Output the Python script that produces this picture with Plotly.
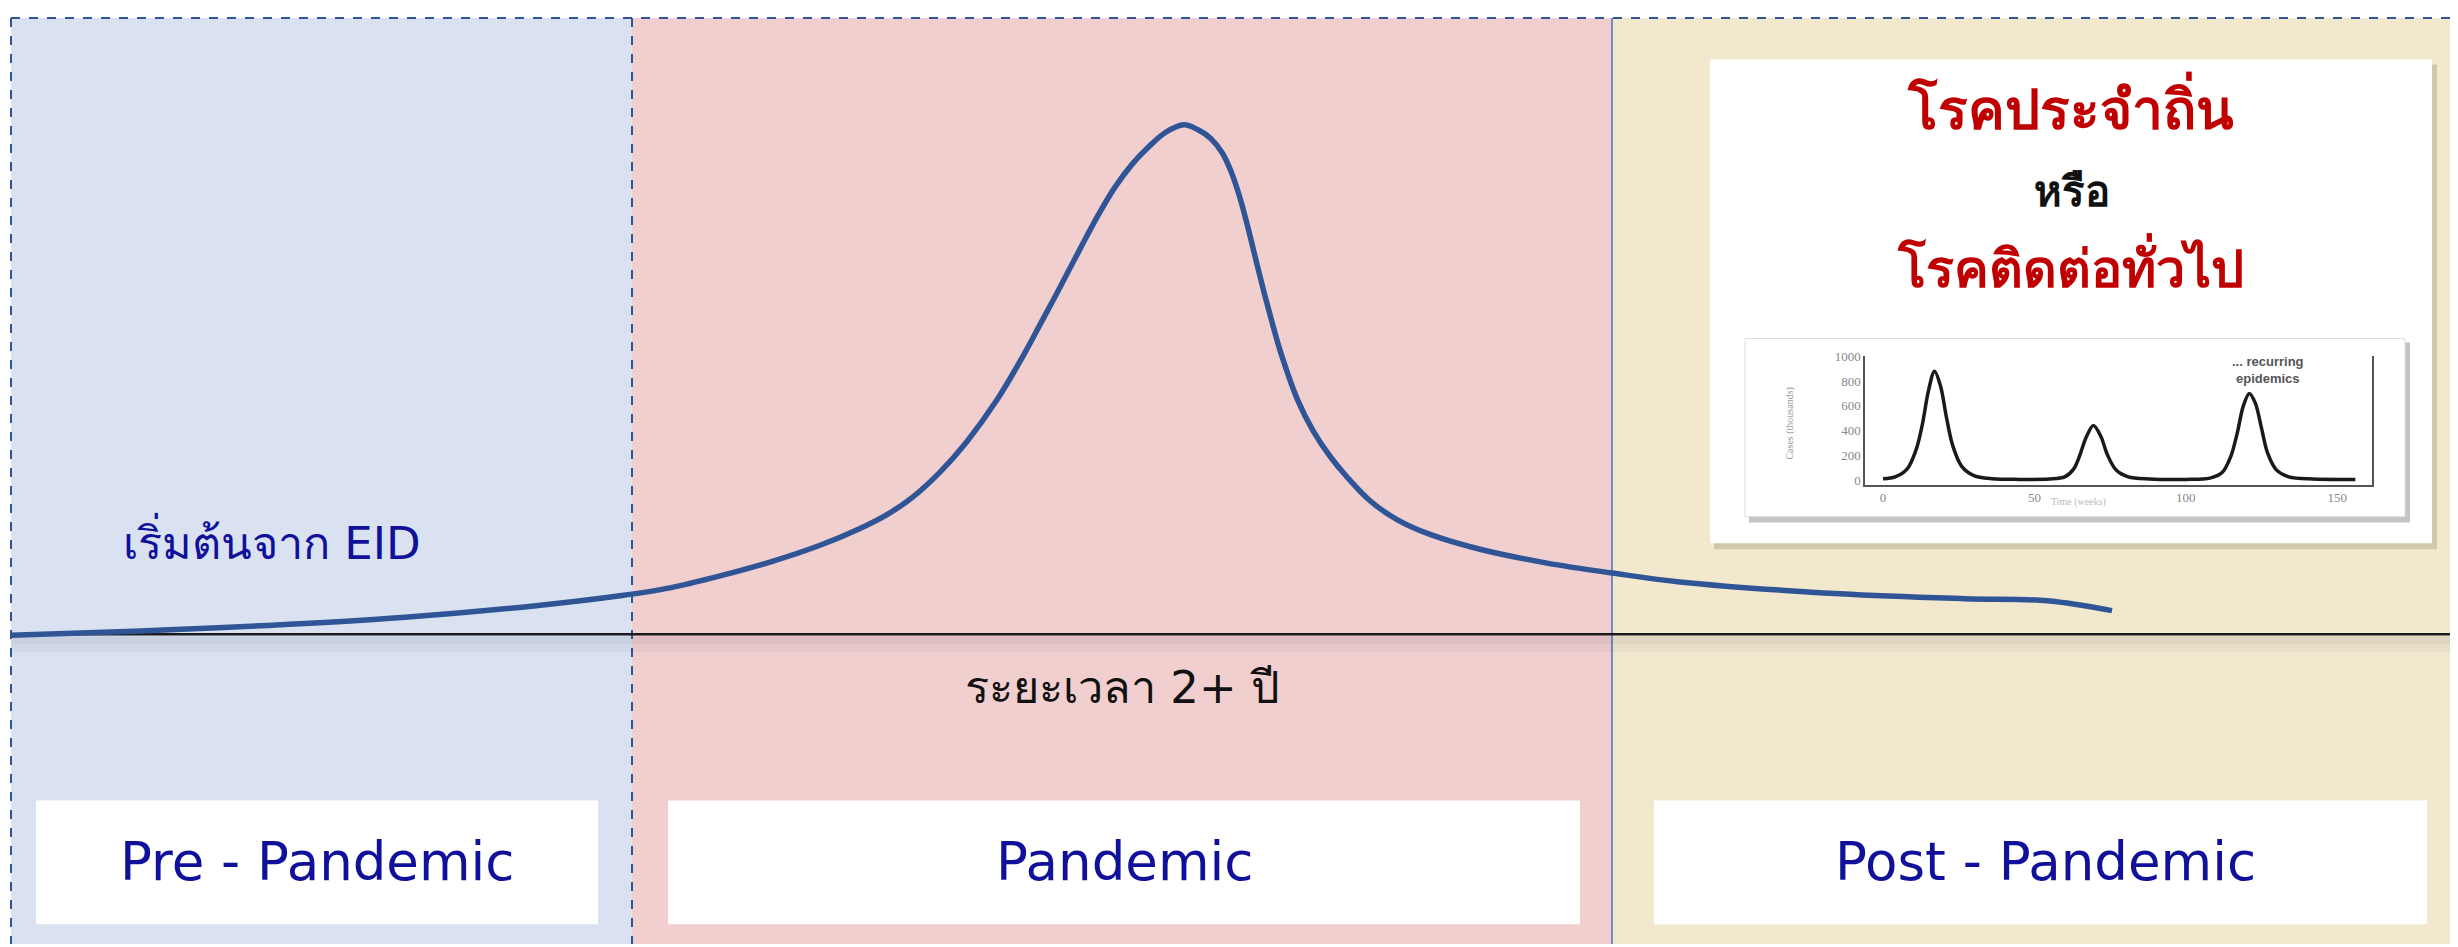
import plotly.graph_objects as go

W, H = 2458, 947
OFF = 8  # default body margin of the html page

# main curve: time (arbitrary units) vs relative case level
curve_t = [0, 12.3, 25.7, 39.1, 52.5, 60.9, 65.9, 70.9, 75.9, 80.9, 84.9, 87.6,
           90.2, 92.9, 95.6, 98.6, 101.3, 102.9, 104.6, 106.1, 107.5, 108.9,
           110.4, 112.1, 113.8, 115.4, 117.3, 118.7, 120.0, 121.1, 122.0, 122.9,
           123.7, 124.6, 125.4, 126.2, 127.0, 128.7, 130.2, 131.9, 133.6, 135.9,
           138.6, 141.9, 146.9, 153.6, 160.1, 166.9, 182.9, 195.4, 203.6, 210.1]
curve_v = [0, 0.4, 1.0, 1.8, 3.0, 4.0, 4.8, 6.0, 7.4, 9.1, 10.8, 12.2,
           14.0, 16.5, 19.6, 23.8, 28.4, 31.4, 34.6, 37.5, 40.2, 42.8,
           45.3, 47.6, 49.4, 50.8, 51.6, 51.1, 50.2, 48.8, 46.9, 44.2,
           41.2, 37.5, 34.3, 31.3, 28.5, 23.7, 20.7, 18.1, 16.0, 13.6,
           11.7, 10.2, 8.7, 7.3, 6.3, 5.4, 4.2, 3.7, 3.5, 2.5]

# inset chart: recurring epidemics
inset_t = [0, 4, 8, 11, 13, 15, 17, 19, 21, 23, 26, 30, 36, 45, 55, 60, 63, 65,
           67, 69.5, 72, 74, 77, 81, 88, 100, 108, 112, 115, 117, 119, 121, 123,
           125, 127, 130, 134, 142, 156]
inset_cases = [10, 25, 90, 250, 450, 720, 880, 760, 500, 280, 110, 35, 10, 5, 8,
               25, 90, 200, 340, 440, 350, 210, 80, 25, 8, 5, 15, 60, 200, 380,
               600, 700, 620, 420, 220, 80, 25, 8, 5]
inset_xticks = [0, 50, 100, 150]
inset_yticks = [0, 200, 400, 600, 800, 1000]

phase_labels = ["Pre - Pandemic", "Pandemic", "Post - Pandemic"]
start_label = "เริ่มต้นจาก EID"
duration_label = "ระยะเวลา 2+ ปี"
endemic_lines = ["โรคประจำถิ่น", "หรือ", "โรคติดต่อทั่วไป"]

FW, FH = W - OFF, H - OFF


def px(x):
    return (x - OFF) / FW


def py(y):
    return 1 - (y - OFF) / FH


def rect(x0, y0, x1, y1, color, line=None, layer="below"):
    return dict(type="rect", xref="paper", yref="paper",
                x0=px(x0), x1=px(x1), y0=py(y1), y1=py(y0),
                fillcolor=color, line=line or dict(width=0), layer=layer)


def seg(x0, y0, x1, y1, color, width, dash="solid", layer="below"):
    return dict(type="line", xref="paper", yref="paper",
                x0=px(x0), x1=px(x1), y0=py(y0), y1=py(y1),
                line=dict(color=color, width=width, dash=dash), layer=layer)


def label(text, x, y, size, color, family="DejaVu Sans", **kw):
    return dict(text=text, x=px(x), y=py(y), xref="paper", yref="paper",
                xanchor="center", yanchor="middle", showarrow=False,
                font=dict(family=family, size=size, color=color), **kw)


fig = go.Figure()

fig.add_trace(go.Scatter(
    x=curve_t, y=curve_v, mode="lines",
    line=dict(color="#2F5597", width=5.5, shape="spline", smoothing=1.0),
    hoverinfo="skip", showlegend=False))

fig.add_trace(go.Scatter(
    x=inset_t, y=inset_cases, mode="lines", xaxis="x2", yaxis="y2",
    line=dict(color="#1a1a1a", width=3.5, shape="spline", smoothing=0.9),
    hoverinfo="skip", showlegend=False))

navy = "#10109A"
blue_line = "#2F5597"
shapes = [
    # phase backgrounds
    rect(11, 11, 632, H, "#DAE2F2"),
    rect(632, 11, 1612, H, "#F2CFCF"),
    rect(1612, 11, W, H, "#F2E8CE"),
    # borders
    seg(11, 11, 11, H, blue_line, 2, "dash"),
    seg(632, 11, 632, H, blue_line, 2, "dash"),
    seg(11, 11, W, 11, blue_line, 2, "dash"),
    seg(1612, 11, 1612, H, "#4472C4", 1.5),
    # time axis and its soft shadow
    rect(11, 636, W, 644, "rgba(60,60,80,0.10)"),
    rect(11, 644, W, 652, "rgba(60,60,80,0.05)"),
    seg(11, 634, W, 634, "#1a1a1a", 2.5),
    # phase label boxes
    rect(36, 802, 598, 927, "white"),
    rect(668, 802, 1580, 927, "white"),
    rect(1654, 802, 2427, 927, "white"),
    # inset card with shadow
    rect(1714, 58, 2437, 548, "rgba(90,80,50,0.22)"),
    rect(1710, 53, 2432, 542, "white"),
    rect(1749, 339, 2410, 521, "rgba(60,60,60,0.3)"),
    rect(1745, 335, 2405, 515, "white", dict(color="#dddddd", width=1)),
]

annotations = [label(t, cx, 864, 53, navy)
               for t, cx in zip(phase_labels, [317, 1124, 2045])]
annotations += [
    label(start_label, 272, 540, 45, navy),
    label(duration_label, 1122, 688, 45, "#111111"),
    label("<b>" + endemic_lines[0] + "</b>", 2070, 100, 55, "#C00000"),
    label("<b>" + endemic_lines[1] + "</b>", 2072, 186, 42, "#111111"),
    label("<b>" + endemic_lines[2] + "</b>", 2070, 262, 52, "#C00000"),
    # inset chart labels (small, faint)
    label("<b>... recurring<br>epidemics</b>", 2268, 367, 13, "#555555",
          family="Liberation Sans", align="center"),
    label("Cases (thousands)", 1790, 420, 10, "#999999",
          family="Liberation Serif", textangle=-90),
    label("Time (weeks)", 2078, 500, 10, "#bbbbbb", family="Liberation Serif"),
]

inset_font = dict(family="Liberation Serif", size=13, color="#888888")

fig.update_layout(
    width=FW, height=FH,
    margin=dict(l=0, r=0, t=0, b=0),
    paper_bgcolor="white", plot_bgcolor="rgba(0,0,0,0)",
    xaxis=dict(domain=[0, 1], range=[-0.3, 244.7], visible=False, fixedrange=True),
    yaxis=dict(domain=[0, 1], range=[-31.2, 62.7], visible=False, fixedrange=True),
    xaxis2=dict(domain=[px(1865), px(2372)], range=[-5.95, 161.5], anchor="y2",
                tickvals=inset_xticks, showgrid=False, zeroline=False,
                showline=True, linecolor="#555555", linewidth=1.5,
                ticks="", tickfont=inset_font),
    yaxis2=dict(domain=[py(483), py(353)], range=[-40, 1000], anchor="x2",
                tickvals=inset_yticks, showgrid=False, zeroline=False,
                showline=True, mirror=True, linecolor="#555555", linewidth=1.5,
                ticks="", tickfont=inset_font),
    shapes=shapes,
    annotations=annotations,
    showlegend=False,
)

fig.write_html("out.html")
